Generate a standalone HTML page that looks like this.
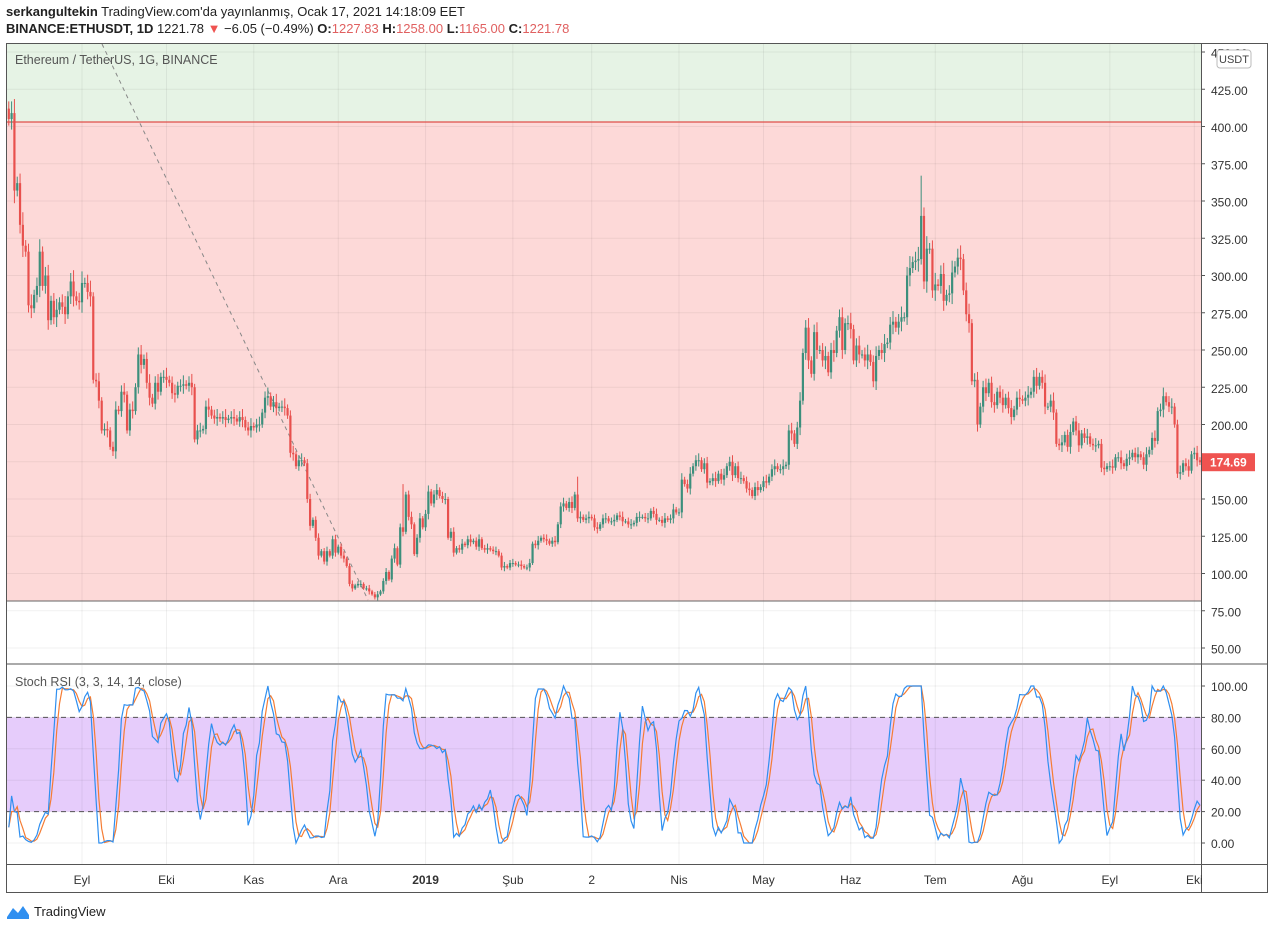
<!DOCTYPE html>
<html><head><meta charset="utf-8">
<style>
body{margin:0;background:#fff;width:1273px;height:930px;overflow:hidden;font-family:"Liberation Sans",sans-serif;}
svg{position:absolute;left:0;top:0}
text{font-family:"Liberation Sans",sans-serif}
</style></head>
<body>
<svg id="c" width="1273" height="930"></svg>
<script>
const categoriesStart = '2018-08-06';
const monthLabels = ['Eyl','Eki','Kas','Ara','2019','Şub','2','Nis','May','Haz','Tem','Ağu','Eyl','Eki'];
const monthDays = [0,30,61,91,122,153,181,212,242,273,303,334,365,395];
const priceTicks = [450,425,400,375,350,325,300,275,250,225,200,175,150,125,100,75,50];
const stochTicks = [100,80,60,40,20,0];
const closes = [
405,409,357,362,334,320,316,280,278,287,293,316,293,300,270,283,272,277,282,279,274,286,296,286,283,282,
295,295,289,286,230,229,216,196,197,196,185,182,210,209,222,220,196,210,209,225,247,240,244,228,218,214,228,222,232,232,
230,228,221,220,226,226,227,226,228,225,190,196,196,197,212,210,206,204,205,204,205,203,204,205,204,202,205,203,198,196,199,
198,200,200,208,218,219,212,215,211,212,212,211,206,181,180,172,176,176,174,150,132,136,124,112,115,108,115,112,123,114,
118,112,110,105,93,90,92,93,93,90,90,88,86,84,86,88,95,101,96,110,117,106,131,128,153,138,133,113,124,137,131,
140,155,147,153,156,152,150,150,124,128,114,117,116,120,119,123,121,122,118,123,117,116,117,116,115,115,112,104,105,104,107,
107,106,106,105,104,104,107,120,119,122,124,123,122,120,122,121,133,145,147,144,148,144,153,137,138,136,137,138,
137,131,130,133,137,137,135,135,136,139,138,135,135,133,133,134,138,138,138,137,137,142,140,136,136,134,137,136,137,143,141,
141,163,160,157,167,172,176,176,170,174,161,162,164,162,167,163,166,172,175,166,172,164,164,162,157,156,152,158,156,158,
162,161,165,170,172,170,170,172,173,196,194,187,198,216,248,265,243,234,262,250,250,243,246,235,250,248,263,272,250,268,268,
264,243,253,247,247,243,247,242,229,246,250,248,254,255,267,269,265,269,272,272,300,305,309,310,311,340,296,318,318,290,
294,293,301,283,287,288,302,306,312,311,290,274,268,229,230,200,212,225,221,228,215,213,222,218,213,218,211,205,210,218,217,
216,218,220,222,232,226,232,228,212,212,216,208,187,186,188,193,185,195,202,196,186,194,191,192,187,186,186,187,171,170,172,
172,171,178,178,174,172,177,178,181,178,180,178,173,180,183,191,189,209,210,219,215,212,212,200,167,168,174,172,169,180,
181,176,174.69];
const firstOpen = 412;
const spikeIdx = [324, 202, 140];
const spikeHighs = [367, 165, 160];

const NS='http://www.w3.org/2000/svg';
const svg=document.getElementById('c');
function el(t,a,p){const e=document.createElementNS(NS,t);for(const k in a)e.setAttribute(k,a[k]);(p||svg).appendChild(e);return e;}
const L=7,R=1201;
const dayX=d=>82+d*2.816;
const xOf=i=>dayX(i-26);
const yP=p=>573.5-(p-100)*1.49;
const yS=v=>843-v*1.57;

let g=el('rect',{x:L,y:44,width:R-L,height:yP(403)-44,fill:'#e6f3e5'});

g=el('rect',{x:L,y:yP(403),width:R-L,height:601-yP(403),fill:'#fdd9d8'});

g=el('rect',{x:L,y:yS(80),width:R-L,height:yS(20)-yS(80),fill:'#e6ccfb'});


monthDays.forEach(d=>{const x=dayX(d);
 let v=el('line',{x1:x,x2:x,y1:44,y2:663,stroke:'rgba(0,0,0,0.06)'});
 
 v=el('line',{x1:x,x2:x,y1:665,y2:864,stroke:'rgba(0,0,0,0.06)'});
 });
priceTicks.forEach(p=>{const y=yP(p);
 const h=el('line',{x1:L,x2:R,y1:y,y2:y,stroke:'rgba(0,0,0,0.06)'});
 
 const t=el('text',{x:1211,y:y+5.5,'font-size':12,fill:'#333'});t.textContent=p.toFixed(2);
 
 el('line',{x1:R,x2:R+4,y1:y,y2:y,stroke:'#555'});});
stochTicks.forEach(v=>{const y=yS(v);
 const h=el('line',{x1:L,x2:R,y1:y,y2:y,stroke:'rgba(0,0,0,0.06)'});
 
 const t=el('text',{x:1211,y:y+5,'font-size':12,fill:'#333'});t.textContent=v.toFixed(2);
 
 el('line',{x1:R,x2:R+4,y1:y,y2:y,stroke:'#555'});});
[80,20].forEach(v=>{const l=el('line',{x1:L,x2:R,y1:yS(v),y2:yS(v),stroke:'#555','stroke-dasharray':'5,4'});
 });
g=el('line',{x1:L,x2:R,y1:yP(403),y2:yP(403),stroke:'#e0504a','stroke-width':1.2});

g=el('line',{x1:L,x2:R,y1:601,y2:601,stroke:'#666'});

g=el('line',{x1:102,y1:44,x2:368,y2:600,stroke:'#888','stroke-dasharray':'4,4'});


const cg=el('g',{'clip-path':'url(#clp)'});
const cp=el('clipPath',{id:'clp'});el('rect',{x:L,y:44,width:R-L,height:619},cp);
let prev=firstOpen;
closes.forEach((c,i)=>{const o=prev;prev=c;const x=xOf(i);
 const w=c*0.012*(1+(i%3)*0.6);
 let hi=Math.max(o,c)+w;const lo=Math.min(o,c)-w*0.9;
 const si=spikeIdx.indexOf(i);if(si>=0)hi=Math.max(hi,spikeHighs[si]);
 const col=c>=o?'#3c8f7c':'#e8504d';
 const k=el('g',{},cg);
 
 el('line',{x1:x,x2:x,y1:yP(hi),y2:yP(lo),stroke:col,'stroke-width':1},k);
 const yt=yP(Math.max(o,c)),yb=yP(Math.min(o,c));
 el('rect',{x:x-1.1,y:yt,width:2.2,height:Math.max(1,yb-yt),fill:col},k);});

const n=closes.length;const rsi=[];let ag=0,al=0;
for(let i=1;i<n;i++){const ch=closes[i]-closes[i-1];const gn=Math.max(ch,0),ls=Math.max(-ch,0);
 if(i<=14){ag+=gn/14;al+=ls/14;}else{ag=(ag*13+gn)/14;al=(al*13+ls)/14;}
 rsi[i]=al===0?100:100-100/(1+ag/al);}
const st=[];for(let i=0;i<n;i++){const w=rsi.slice(Math.max(1,i-13),i+1).filter(v=>v!==undefined);
 if(!w.length){st[i]=10;continue;}const mn=Math.min(...w),mx=Math.max(...w);st[i]=mx===mn?50:(rsi[i]-mn)/(mx-mn)*100;}
const sma=(a,i)=>{let s=0,c=0;for(let j=Math.max(0,i-2);j<=i;j++){s+=a[j];c++;}return s/c;};
const K=st.map((v,i)=>sma(st,i));const D=K.map((v,i)=>sma(K,i));
function pl(arr,col,name){const p=el('polyline',{points:arr.map((v,i)=>xOf(i).toFixed(1)+','+yS(v).toFixed(1)).join(' '),fill:'none',stroke:col,'stroke-width':1.2,'clip-path':'url(#clp2)'});
 }
const cp2=el('clipPath',{id:'clp2'});el('rect',{x:L,y:665,width:R-L,height:199},cp2);
pl(D,'#f57c33','stoch-d-line');pl(K,'#2f8ff0','stoch-k-line');

el('rect',{x:6.5,y:43.5,width:1261,height:849,fill:'none',stroke:'#555'});
el('line',{x1:6,x2:1268,y1:664,y2:664,stroke:'#555'});
el('line',{x1:6,x2:1268,y1:864.5,y2:864.5,stroke:'#555'});
el('line',{x1:R+.5,x2:R+.5,y1:43,y2:892,stroke:'#555'});
monthLabels.forEach((m,i)=>{const x=dayX(monthDays[i]);
 const t=el('text',{x:x,y:884,'font-size':12,fill:'#333','text-anchor':'middle','font-weight':m==='2019'?'bold':'normal'});t.textContent=m;
 });

g=el('rect',{x:1217,y:50,width:34,height:18,rx:3,fill:'#fff',stroke:'#bbb'});

let t=el('text',{x:1234,y:63,'font-size':11,fill:'#444','text-anchor':'middle'});t.textContent='USDT';
const lp=closes[n-1];
g=el('rect',{x:1202,y:yP(lp)-9,width:53,height:18,fill:'#ef5350'});

t=el('text',{x:1210,y:yP(lp)+4.5,'font-size':12,fill:'#fff','font-weight':'bold'});t.textContent=lp.toFixed(2);
</script>
<div style="position:absolute;left:6px;top:4px;font-size:13px;color:#222;white-space:nowrap"><b>serkangultekin</b> TradingView.com'da yayınlanmış, Ocak 17, 2021 14:18:09 EET</div>
<div style="position:absolute;left:6px;top:21px;font-size:13px;color:#222;white-space:nowrap"><b>BINANCE:ETHUSDT, 1D</b> 1221.78 <span style="color:#ef5350">▼</span> −6.05 (−0.49%) <b>O:</b><span style="color:#e06060">1227.83</span> <b>H:</b><span style="color:#e06060">1258.00</span> <b>L:</b><span style="color:#e06060">1165.00</span> <b>C:</b><span style="color:#e06060">1221.78</span></div>
<div style="position:absolute;left:15px;top:53px;font-size:12.5px;color:#555">Ethereum / TetherUS, 1G, BINANCE</div>
<div style="position:absolute;left:15px;top:675px;font-size:12.5px;color:#555">Stoch RSI (3, 3, 14, 14, close)</div>
<div style="position:absolute;left:6px;top:903px;font-size:13px;color:#222;display:flex;align-items:center"><svg width="24" height="16" style="position:static;margin-right:4px" viewBox="0 0 24 16"><path d="M1 14 L7 5 L12 10 L17 3 L23 12 L23 16 L1 16Z" fill="#2f8ff0"/></svg>TradingView</div>
</body></html>
